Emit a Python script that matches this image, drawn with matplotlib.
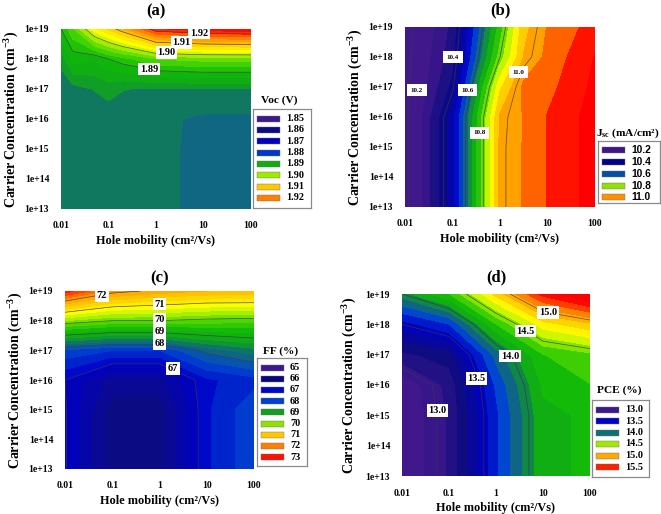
import numpy as np
import matplotlib
matplotlib.use("Agg")
import matplotlib.pyplot as plt
from matplotlib.colors import LinearSegmentedColormap, Normalize
from matplotlib.patches import Rectangle

plt.rcParams['font.family'] = ['Liberation Serif', 'DejaVu Serif']
plt.rcParams['font.weight'] = 'bold'
plt.rcParams['mathtext.fontset'] = 'custom'
plt.rcParams['mathtext.bf'] = 'Liberation Serif:bold'
plt.rcParams['mathtext.rm'] = 'Liberation Serif:bold'

W, H = 661, 514

### data, log10 of the grid axes
log_mobility = [-2, -1, 0, 1, 2]
log_carrier = [13, 14, 15, 16, 17, 18, 19]
mobility_ticks = ['0.01', '0.1', '1', '10', '100']
carrier_ticks = ['1e+13', '1e+14', '1e+15', '1e+16', '1e+17', '1e+18', '1e+19']

# panels (a) and (b) needed a few more mobility columns to follow the kinks
voc_mobility = [-2, -1.75, -1.3, -1, -0.7, 0, 0.48, 1, 2]
jsc_mobility = [-2, -1, 0, 0.5, 1, 2]

# rows go from 1e13 up to 1e19
voc = [
    [1.8810, 1.8810, 1.8810, 1.8810, 1.8810, 1.8804, 1.88002, 1.8795, 1.8795],
    [1.8810, 1.8810, 1.8810, 1.8810, 1.8810, 1.8804, 1.88002, 1.8795, 1.8795],
    [1.8810, 1.8810, 1.8810, 1.8810, 1.8810, 1.8804, 1.88002, 1.8795, 1.8795],
    [1.8805, 1.8810, 1.8810, 1.8810, 1.8810, 1.8805, 1.8801, 1.8795, 1.8795],
    [1.8805, 1.8815, 1.8826, 1.8835, 1.8826, 1.8822, 1.8823, 1.8824, 1.8824],
    [1.8835, 1.8885, 1.8879, 1.8900, 1.8915, 1.8950, 1.8955, 1.8960, 1.8960],
    [1.8900, 1.8945, 1.9040, 1.9080, 1.9120, 1.9220, 1.9230, 1.9240, 1.9250],
]
jsc = [
    [10.18, 10.45, 10.99, 11.03, 11.08, 11.15],
    [10.18, 10.45, 10.99, 11.03, 11.08, 11.15],
    [10.18, 10.45, 10.99, 11.03, 11.08, 11.15],
    [10.18, 10.45, 10.985, 11.03, 11.08, 11.15],
    [10.178, 10.39, 10.916, 11.04, 11.06, 11.14],
    [10.178, 10.356, 10.80, 10.98, 11.04, 11.13],
    [10.175, 10.34, 10.75, 10.96, 11.03, 11.10],
]
ff = [
    [67.03, 66.1, 66.1, 67.2, 67.7],
    [67.03, 66.1, 66.1, 67.2, 67.7],
    [67.03, 66.1, 66.1, 67.2, 67.7],
    [67.0, 66.4, 66.4, 67.2, 67.4],
    [67.7, 67.5, 67.5, 68.1, 68.4],
    [70.25, 70.0, 70.0, 69.9, 69.85],
    [72.9, 72.15, 71.9, 71.75, 71.75],
]
pce = [
    [12.80, 13.07, 13.65, 14.15, 14.20],
    [12.80, 13.07, 13.65, 14.15, 14.20],
    [12.80, 13.07, 13.65, 14.15, 14.20],
    [12.82, 13.10, 13.70, 14.20, 14.30],
    [13.15, 13.24, 13.85, 14.30, 14.40],
    [13.50, 13.675, 14.30, 14.75, 14.90],
    [14.00, 14.30, 14.85, 15.35, 15.60],
]

voc_legend = ['1.85', '1.86', '1.87', '1.88', '1.89', '1.90', '1.91', '1.92']
jsc_legend = ['10.2', '10.4', '10.6', '10.8', '11.0']
ff_legend = ['65', '66', '67', '68', '69', '70', '71', '72', '73']
pce_legend = ['13.0', '13.5', '14.0', '14.5', '15.0', '15.5']

voc_swatches = ['#3c1a8c', '#0c0c80', '#0000c0', '#0038c8', '#10ac10', '#a0ea00', '#ffc800', '#ff8000']
jsc_swatches = ['#40148c', '#00008c', '#0050a8', '#90e000', '#ff9000']
ff_swatches = ['#3c1a8c', '#08087c', '#0008c0', '#0040d0', '#10a020', '#90e000', '#ffc800', '#ff8000', '#ff1000']
pce_swatches = ['#3c1a8c', '#0000c8', '#0c7070', '#a0e800', '#ffa800', '#ff2000']

voc_lines = [1.89, 1.90, 1.91, 1.92]
jsc_lines = [10.2, 10.4, 10.6, 10.8, 11.0]
ff_lines = [67, 68, 69, 70, 71, 72]
pce_lines = [13.0, 13.5, 14.0, 14.5, 15.0]

# contour label text and where it sits (log mobility, log carrier)
voc_labels = [('1.92', 0.905, 18.86), ('1.91', 0.54, 18.55), ('1.90', 0.22, 18.22), ('1.89', -0.147, 17.66)]
jsc_labels = [('10.2', -1.75, 16.89), ('10.4', -0.99, 17.99), ('10.6', -0.685, 16.89),
              ('10.8', -0.43, 15.47), ('11.0', 0.39, 17.49)]
ff_labels = [('72', -1.22, 18.84), ('71', 0, 18.56), ('70', 0, 18.04), ('69', 0, 17.63),
             ('68', 0, 17.23), ('67', 0.28, 16.39)]
pce_labels = [('15.0', 1.11, 18.39), ('14.5', 0.63, 17.77), ('14.0', 0.3, 16.95),
              ('13.5', -0.41, 16.21), ('13.0', -1.24, 15.16)]

rainbow = LinearSegmentedColormap.from_list('rainbow_bands', [
    (0.00, '#40188c'), (0.13, '#0c0c80'), (0.25, '#0000c8'), (0.33, '#0048d0'),
    (0.37, '#0f5f90'), (0.42, '#0f7a5a'), (0.46, '#10a818'), (0.53, '#10b808'),
    (0.60, '#50d800'), (0.66, '#b0f000'), (0.72, '#ffff00'), (0.80, '#ffc800'),
    (0.88, '#ff8c00'), (0.97, '#ff1000'), (1.00, '#ff0000')])


def px_axes(fig, left, top, right, bottom):
    return fig.add_axes([left / W, 1 - bottom / H, (right - left) / W, (bottom - top) / H])


def draw_legend(fig, box, names, swatches, spacing, family=None):
    l, t, r, b = box
    lax = px_axes(fig, l, t, r, b)
    lax.set_xlim(0, r - l)
    lax.set_ylim(b - t, 0)
    lax.set_xticks([])
    lax.set_yticks([])
    for s in lax.spines.values():
        s.set_color('#8a8a8a')
        s.set_linewidth(0.9)
    for i, (name, col) in enumerate(zip(names, swatches)):
        yc = 9.5 + i * spacing
        lax.add_patch(Rectangle((3.5, yc - 3), 23, 6, fc=col, ec='#707080', lw=0.3))
        lax.text(33, yc, name, fontsize=7.4, fontweight='bold', va='center', ha='left',
                 family=family if family else plt.rcParams['font.family'])


def draw_panel(fig, box, x, z, vmin, vmax, step, lines, labels, title, title_pad, label_size=7.5, ylabel_pad=3):
    ax = px_axes(fig, *box)
    norm = Normalize(vmin, vmax)
    levels = np.arange(vmin - step, vmax + 2 * step, step)
    ax.contourf(x, log_carrier, z, levels=levels, cmap=rainbow, norm=norm, extend='both')
    ax.contour(x, log_carrier, z, levels=lines, colors='#383848', linewidths=0.5, alpha=0.85)

    ax.set_xlim(-2, 2)
    ax.set_ylim(13, 19)
    ax.set_xticks(log_mobility)
    ax.set_xticklabels(mobility_ticks, fontsize=7)
    ax.set_yticks(log_carrier)
    ax.set_yticklabels(carrier_ticks, fontsize=7)
    ax.tick_params(axis='x', length=0, pad=9)
    ax.tick_params(axis='y', length=0, pad=8.5)
    for s in ax.spines.values():
        s.set_visible(False)
    ax.set_xlabel('Hole mobility (cm²/Vs)', fontsize=8.8, fontweight='bold', labelpad=3)
    ax.set_ylabel('Carrier Concentration (cm$^{\\mathbf{-3}}$)', fontsize=10, fontweight='bold', labelpad=ylabel_pad)
    ax.set_title(title, fontsize=12, fontweight='bold', pad=title_pad)

    for txt, lx, ly in labels:
        pad = 2.6 if label_size < 6 else 1.2
        ax.text(lx, ly, txt, fontsize=label_size, fontweight='bold', ha='center', va='center',
                bbox=dict(fc='white', ec='none', pad=pad))
    return ax


fig = plt.figure(figsize=(W / 100, H / 100), dpi=100, facecolor='white')

draw_panel(fig, (61, 29, 251, 209), voc_mobility, voc, 1.85, 1.925, 0.0025, voc_lines, voc_labels, '(a)', 10)
draw_panel(fig, (405, 27, 595, 207), jsc_mobility, jsc, 10.277, 11.13, 0.05, jsc_lines, jsc_labels, '(b)', 9, label_size=5)
draw_panel(fig, (65, 291, 254, 469), log_mobility, ff, 65, 73.2, 0.25, ff_lines, ff_labels, '(c)', 6.5)
draw_panel(fig, (402, 294, 590, 476), log_mobility, pce, 12.93, 15.4, 0.125, pce_lines, pce_labels, '(d)', 9, ylabel_pad=5.5)

draw_legend(fig, (253, 109, 311, 208), voc_legend, voc_swatches, 11.35)
draw_legend(fig, (598, 141, 660, 203), jsc_legend, jsc_swatches, 11.7, family='Liberation Sans')
draw_legend(fig, (257, 358, 307, 466), ff_legend, ff_swatches, 11.2)
draw_legend(fig, (592, 400, 649, 477), pce_legend, pce_swatches, 11.5)

fig.text(279 / W, 1 - 100 / H, 'Voc (V)', fontsize=8.2, fontweight='bold', ha='center', va='center')
fig.text(628 / W, 1 - 133 / H, 'J$_{\\mathbf{sc}}$ (mA/cm²)', fontsize=8.2, fontweight='bold', ha='center', va='center')
fig.text(281 / W, 1 - 351 / H, 'FF (%)', fontsize=8.2, fontweight='bold', ha='center', va='center')
fig.text(619 / W, 1 - 390 / H, 'PCE (%)', fontsize=8.2, fontweight='bold', ha='center', va='center')

fig.savefig('out.png', dpi=100)
